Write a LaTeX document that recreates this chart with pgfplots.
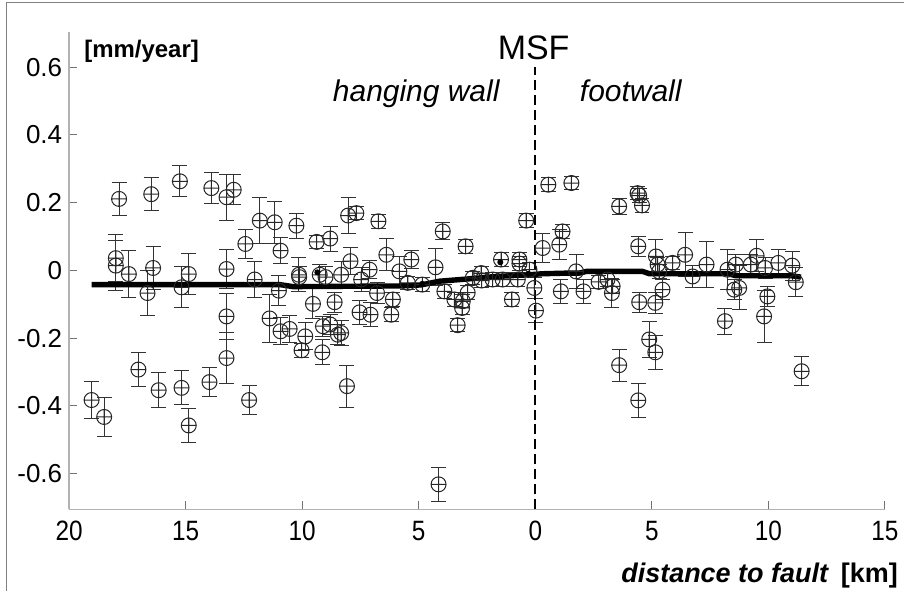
\documentclass[border=0pt]{standalone}
\usepackage{fontspec}
\setmainfont{Liberation Sans}
\newfontfamily\narrowfont[FakeStretch=0.87]{Liberation Sans}
\usepackage{pgfplots}
\usepackage{pgfplotstable}
\pgfplotsset{compat=1.18}

% velocity points: x = signed distance (hanging wall < 0), y in mm/yr, e = half error bar
\pgfplotstableread{
x y e
-19.04 -0.383 0.056
-18.50 -0.433 0.057
-17.86 0.211 0.048
-18.00 0.036 0.069
-18.00 0.014 0.073
-17.44 -0.011 0.069
-16.64 -0.067 0.066
-16.40 0.007 0.064
-16.48 0.225 0.049
-17.03 -0.293 0.049
-16.16 -0.354 0.052
-15.25 0.263 0.046
-15.18 -0.050 0.060
-15.18 -0.347 0.050
-14.87 -0.011 0.061
-14.87 -0.458 0.050
-13.98 -0.330 0.044
-13.90 0.243 0.047
-13.25 0.216 0.068
-12.94 0.238 0.044
-13.25 0.004 0.057
-13.25 -0.136 0.069
-13.25 -0.259 0.074
-12.44 0.078 0.043
-12.28 -0.383 0.043
-12.04 -0.027 0.052
-11.82 0.147 0.068
-11.18 0.142 0.062
-10.93 0.058 0.039
-11.00 -0.060 0.044
-11.40 -0.142 0.070
-10.93 -0.180 0.040
-10.54 -0.173 0.040
-10.25 0.132 0.037
-10.14 -0.013 0.050
-10.13 -0.020 0.030
-9.87 -0.195 0.040
-10.03 -0.236 0.020
-9.38 0.084 0.020
-8.80 0.094 0.037
-9.54 -0.099 0.044
-9.14 -0.242 0.037
-9.25 -0.013 0.030
-9.11 -0.165 0.030
-8.80 -0.160 0.030
-8.61 -0.094 0.030
-9.00 -0.020 0.030
-8.47 -0.190 0.030
-8.03 0.162 0.052
-7.68 0.169 0.020
-6.73 0.145 0.020
-7.93 0.027 0.040
-8.33 -0.013 0.040
-8.33 -0.185 0.037
-8.08 -0.342 0.062
-7.47 -0.027 0.035
-7.54 -0.124 0.035
-7.07 -0.131 0.035
-7.11 0.002 0.027
-6.79 -0.067 0.030
-6.39 0.046 0.047
-5.83 -0.003 0.045
-5.32 0.032 0.027
-6.11 -0.086 0.020
-6.18 -0.131 0.020
-5.47 -0.037 0.020
-4.85 -0.042 0.020
-4.28 0.009 0.055
-3.97 0.115 0.025
-3.90 -0.062 0.020
-3.33 -0.162 0.020
-3.14 -0.111 0.020
-3.11 -0.091 0.020
-3.47 -0.086 0.020
-2.99 0.071 0.020
-2.90 -0.066 0.020
-2.68 -0.022 0.020
-2.32 -0.008 0.020
-2.30 -0.030 0.020
-1.83 -0.027 0.020
-1.47 0.032 0.020
-1.40 -0.027 0.020
-1.00 -0.086 0.020
-0.68 0.032 0.020
-0.68 0.020 0.020
-0.75 -0.027 0.020
-0.39 0.147 0.020
-0.25 0.002 0.020
-0.04 -0.052 0.030
0.03 -0.119 0.035
0.32 0.066 0.043
0.56 0.253 0.020
1.17 0.115 0.020
1.03 0.076 0.044
1.10 -0.062 0.035
1.55 0.258 0.020
-4.15 -0.632 0.051
1.75 -0.003 0.050
2.07 -0.062 0.036
2.72 -0.034 0.020
3.10 -0.027 0.020
3.32 -0.047 0.020
3.29 -0.067 0.042
3.60 0.189 0.024
3.60 -0.280 0.047
4.39 0.228 0.020
4.46 0.221 0.020
4.58 0.192 0.020
4.42 0.071 0.030
4.46 -0.094 0.030
5.15 -0.096 0.032
4.89 -0.204 0.052
5.15 -0.242 0.050
4.42 -0.384 0.050
5.18 0.041 0.050
5.25 0.017 0.020
5.32 -0.003 0.020
5.46 -0.057 0.030
5.89 0.022 0.020
6.43 0.046 0.065
6.75 -0.018 0.032
7.35 0.017 0.067
8.25 0.002 0.060
8.14 -0.150 0.038
8.61 0.017 0.030
8.54 -0.057 0.030
8.75 -0.052 0.065
9.25 0.017 0.030
9.50 0.043 0.047
9.86 0.007 0.030
9.96 -0.077 0.030
9.82 -0.136 0.077
10.43 0.022 0.040
11.03 0.014 0.043
11.18 -0.035 0.042
11.43 -0.298 0.043
}\pts

\begin{document}
\begin{tikzpicture}
\begin{axis}[
    scale only axis,
    width=408.3pt, height=239pt,
    xmin=-20, xmax=15, ymin=-0.706, ymax=0.704,
    axis x line*=bottom, axis y line*=left,
    axis line style={-, draw=black!30, line width=0.8pt},
    tick align=inside,
    major tick length=4pt,
    tick style={black!55, line width=0.5pt},
    xtick={-20,-15,-10,-5,0,5,10,15},
    xticklabels={20,15,10,5,0,5,10,15},
    ytick={-0.6,-0.4,-0.2,0,0.2,0.4,0.6},
    yticklabels={-0.6,-0.4,-0.2,0,0.2,0.4,0.6},
    xticklabel style={font=\narrowfont\fontsize{14}{14}\selectfont, yshift=-2.5pt},
    yticklabel style={font=\fontsize{13}{13}\selectfont},
    clip=false,
]
\addplot[only marks, mark=oplus, mark size=3.75pt,
    mark options={black!85, line width=0.5pt, fill opacity=0},
    error bars/.cd, y dir=both, y explicit,
    error bar style={black!80, line width=0.5pt},
    error mark options={rotate=90, mark size=3.75pt, black!80, line width=0.5pt}]
    table[x=x, y=y, y error=e] {\pts};
\addplot[only marks, mark=*, mark size=1.3pt, black]
    coordinates {(-9.35,-0.006) (-1.5,0.024) (-4.85,-0.04) (-0.3,-0.01)};
% smoothed velocity profile
\addplot[black, line width=2.7pt, line join=round] coordinates {
    (-19.04,-0.042) (-10.97,-0.042) (-10.4,-0.048) (-5.7,-0.046) (-4.9,-0.043)
    (-4.11,-0.032) (-2.83,-0.025) (-1.68,-0.018) (-0.25,-0.013) (0.3,-0.01)
    (1.46,-0.008) (1.9,-0.008) (2.2,-0.003) (4.6,-0.003) (4.9,-0.01)
    (8.3,-0.01) (8.6,-0.016) (11.0,-0.016) (11.4,-0.02)};

\draw[black, line width=1pt, dash pattern=on 5pt off 2.5pt] (axis cs:0,-0.706) -- (axis cs:0,0.600);
\node[inner sep=0pt, anchor=base west, font=\bfseries\fontsize{12}{12}\selectfont] at (axis cs:-19.37,0.630) {[mm/year]};
\node[inner sep=0pt, anchor=base, font=\fontsize{17}{17}\selectfont] at (axis cs:-0.07,0.6215) {MSF};
\node[inner sep=0pt, anchor=base west, font=\itshape\fontsize{15}{15}\selectfont] at (axis cs:-8.70,0.4985) {hanging wall};
\node[inner sep=0pt, anchor=base west, font=\itshape\fontsize{15}{15}\selectfont] at (axis cs:1.90,0.4985) {footwall};
\node[inner sep=0pt, anchor=base east, font=\bfseries\fontsize{13.5}{13.5}\selectfont] at (axis cs:15.58,-0.921) {\textit{distance to fault}\, [km]};
% outer frame and page size
\draw[black!50, line width=0.5pt] (axis cs:-22.71,-0.948) -- (axis cs:-22.71,0.790) -- (axis cs:15.82,0.790);
\path (axis cs:-22.97,0.7985) rectangle (axis cs:15.82,-0.948);
\end{axis}
\end{tikzpicture}
\end{document}
